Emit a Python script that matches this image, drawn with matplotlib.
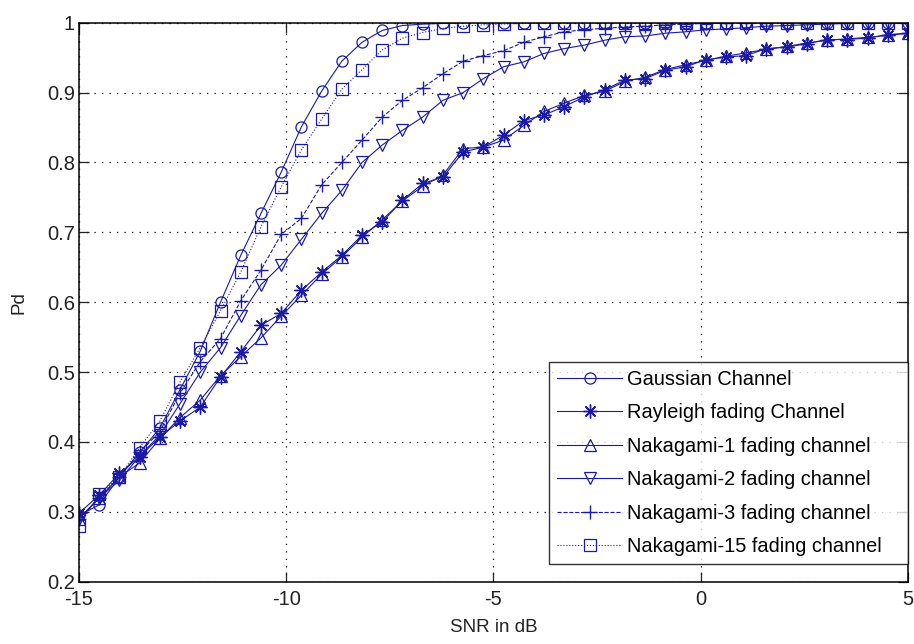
import numpy as np
import matplotlib
matplotlib.use("Agg")
import matplotlib.pyplot as plt

plt.rcParams['font.family'] = ['Liberation Sans', 'DejaVu Sans']

snr_db = np.linspace(-15, 5, 42)

gaussian = [0.295, 0.31, 0.35, 0.385, 0.42, 0.475, 0.53, 0.60, 0.667, 0.727,
            0.786, 0.851, 0.902, 0.945, 0.972, 0.989, 0.996, 0.998, 0.999, 1.0,
            1.0, 1.0, 1.0, 1.0, 1.0, 1.0, 1.0, 1.0, 1.0, 1.0,
            1.0, 1.0, 1.0, 1.0, 1.0, 1.0, 1.0, 1.0, 1.0, 1.0, 1.0, 1.0]
rayleigh = [0.298, 0.324, 0.355, 0.379, 0.407, 0.43, 0.45, 0.493, 0.529, 0.567,
            0.584, 0.617, 0.643, 0.667, 0.696, 0.715, 0.746, 0.77, 0.779, 0.815,
            0.822, 0.839, 0.86, 0.868, 0.88, 0.894, 0.904, 0.918, 0.92, 0.932,
            0.937, 0.947, 0.951, 0.953, 0.963, 0.965, 0.970, 0.976, 0.976, 0.978,
            0.983, 0.985]
nakagami1 = [0.29, 0.32, 0.35, 0.37, 0.405, 0.435, 0.46, 0.495, 0.522, 0.549,
             0.58, 0.61, 0.64, 0.665, 0.693, 0.718, 0.745, 0.766, 0.782, 0.82,
             0.822, 0.832, 0.853, 0.873, 0.885, 0.896, 0.902, 0.916, 0.922, 0.933,
             0.940, 0.946, 0.952, 0.957, 0.962, 0.966, 0.971, 0.975, 0.977, 0.979,
             0.982, 0.985]
nakagami2 = [0.29, 0.32, 0.345, 0.38, 0.41, 0.455, 0.50, 0.535, 0.581, 0.625,
             0.653, 0.69, 0.727, 0.76, 0.80, 0.825, 0.846, 0.865, 0.889, 0.90,
             0.92, 0.937, 0.944, 0.956, 0.963, 0.968, 0.975, 0.980, 0.981, 0.985,
             0.987, 0.99, 0.991, 0.993, 0.995, 0.996, 0.997, 0.998, 0.999, 0.999,
             1.0, 1.0]
nakagami3 = [0.29, 0.32, 0.35, 0.385, 0.415, 0.47, 0.515, 0.548, 0.602, 0.646,
             0.697, 0.72, 0.768, 0.80, 0.832, 0.865, 0.889, 0.907, 0.927, 0.945,
             0.953, 0.96, 0.972, 0.98, 0.987, 0.99, 0.992, 0.994, 0.995, 0.997,
             0.998, 0.999, 0.999, 1.0, 1.0, 1.0, 1.0, 1.0, 1.0, 1.0, 1.0, 1.0]
nakagami15 = [0.28, 0.325, 0.35, 0.392, 0.43, 0.486, 0.535, 0.588, 0.643, 0.708,
              0.765, 0.818, 0.862, 0.905, 0.933, 0.961, 0.978, 0.986, 0.992, 0.995,
              0.997, 0.998, 0.999, 0.999, 1.0, 1.0, 1.0, 1.0, 1.0, 1.0,
              1.0, 1.0, 1.0, 1.0, 1.0, 1.0, 1.0, 1.0, 1.0, 1.0, 1.0, 1.0]

labels = ['Gaussian Channel', 'Rayleigh fading Channel', 'Nakagami-1 fading channel',
          'Nakagami-2 fading channel', 'Nakagami-3 fading channel', 'Nakagami-15 fading channel']
xticks = [-15, -10, -5, 0, 5]
yticks = [0.2, 0.3, 0.4, 0.5, 0.6, 0.7, 0.8, 0.9, 1.0]
ytick_labels = ['0.2', '0.3', '0.4', '0.5', '0.6', '0.7', '0.8', '0.9', '1']

col = '#1a1aa6'
fig = plt.figure(figsize=(9.14, 6.44), dpi=100)
ax = fig.add_axes([0.0864, 0.0967, 0.907, 0.868])

series = [gaussian, rayleigh, nakagami1, nakagami2, nakagami3, nakagami15]
markers = ['o', (8, 2, 0), '^', 'v', '+', 's']
styles = ['-', '-', '-', '-', '--', ':']
for ys, m, ls, lab in zip(series, markers, styles, labels):
    is_line_marker = m == '+' or isinstance(m, tuple)
    ax.plot(snr_db, ys, linestyle=ls, marker=m, color=col, lw=0.8,
            markersize=10 if is_line_marker else 8,
            markerfacecolor='none',
            markeredgecolor=col, markeredgewidth=1.0 if is_line_marker else 0.9,
            label=lab)

ax.set_xlim(-15, 5)
ax.set_ylim(0.2, 1.0)
ax.set_xticks(xticks)
ax.set_xticklabels([str(t) for t in xticks])
ax.set_yticks(yticks)
ax.set_yticklabels(ytick_labels)
ax.grid(True, color='black', linestyle=(0, (1, 5)), linewidth=0.9)
ax.tick_params(direction='in', length=7, width=0.9, top=True, right=True,
               labelsize=14.5, colors='#222222')
ax.tick_params(axis='x', pad=6)
ax.tick_params(axis='y', pad=3)
for s in ax.spines.values():
    s.set_linewidth(1.1)
    s.set_color('black')

ax.set_xlabel('SNR in dB', fontsize=13.5, color='#222222', labelpad=7)
ax.set_ylabel('Pd', fontsize=13.5, color='#222222', labelpad=14)

leg = ax.legend(loc='lower left', bbox_to_anchor=(0.567, 0.0317, 0.433, 0.391),
                mode='expand', borderaxespad=0,
                fontsize=14.4, frameon=True, fancybox=False, handlelength=3.25,
                handletextpad=0.25, labelspacing=0.72, borderpad=0.4)
leg.get_frame().set_edgecolor('black')
leg.get_frame().set_linewidth(1.0)

fig.savefig('out.png', dpi=100)
